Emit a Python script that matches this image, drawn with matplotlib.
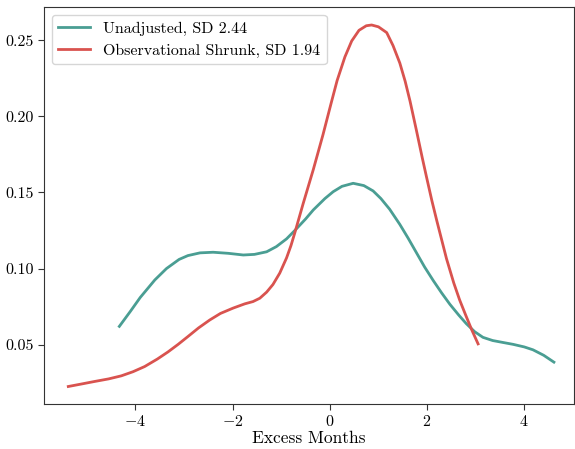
import matplotlib
matplotlib.use("Agg")
import matplotlib.pyplot as plt

unadj_x = [-4.33, -4.10, -3.90, -3.60, -3.36, -3.10, -2.92, -2.67, -2.40, -2.09,
           -1.78, -1.55, -1.30, -1.10, -0.89, -0.72, -0.50, -0.34, -0.10, 0.07,
           0.25, 0.48, 0.70, 0.89, 1.05, 1.23, 1.44, 1.61, 1.78, 1.95,
           2.13, 2.30, 2.47, 2.65, 2.81, 2.98, 3.15, 3.35, 3.55, 3.77,
           4.00, 4.18, 4.40, 4.61]
unadj_y = [0.0620, 0.0720, 0.0810, 0.0925, 0.1000, 0.1060, 0.1085, 0.1103, 0.1107, 0.1100,
           0.1089, 0.1093, 0.1110, 0.1144, 0.1195, 0.1250, 0.1325, 0.1385, 0.1460, 0.1505,
           0.1540, 0.1560, 0.1545, 0.1510, 0.1460, 0.1390, 0.1290, 0.1200, 0.1105, 0.1010,
           0.0920, 0.0840, 0.0765, 0.0695, 0.0637, 0.0585, 0.0548, 0.0527, 0.0515, 0.0502,
           0.0485, 0.0466, 0.0430, 0.0385]

shrunk_x = [-5.38, -5.10, -4.84, -4.55, -4.29, -4.05, -3.81, -3.55, -3.33, -3.12,
            -2.92, -2.70, -2.47, -2.25, -1.99, -1.75, -1.58, -1.44, -1.30, -1.17,
            -1.03, -0.89, -0.80, -0.72, -0.55, -0.34, -0.14, 0.03, 0.15, 0.31,
            0.45, 0.60, 0.75, 0.86, 1.00, 1.17, 1.30, 1.44, 1.55, 1.65,
            1.78, 1.90, 1.99, 2.10, 2.20, 2.30, 2.40, 2.55, 2.67, 2.80,
            2.92, 3.05]
shrunk_y = [0.0225, 0.0242, 0.0258, 0.0275, 0.0295, 0.0322, 0.0356, 0.0405, 0.0452, 0.0502,
            0.0553, 0.0610, 0.0662, 0.0705, 0.0740, 0.0768, 0.0783, 0.0805, 0.0845, 0.0895,
            0.0970, 0.1070, 0.1150, 0.1235, 0.1425, 0.1650, 0.1880, 0.2090, 0.2235, 0.2390,
            0.2495, 0.2565, 0.2595, 0.2600, 0.2588, 0.2550, 0.2465, 0.2350, 0.2230, 0.2100,
            0.1910, 0.1730, 0.1600, 0.1445, 0.1315, 0.1190, 0.1065, 0.0905, 0.0794, 0.0690,
            0.0597, 0.0505]

labels = ["Unadjusted, SD 2.44", "Observational Shrunk, SD 1.94"]
colors = ["#4A9E93", "#D9534F"]

plt.rcParams["font.family"] = "serif"
plt.rcParams["font.serif"] = ["cmr10"]
plt.rcParams["mathtext.fontset"] = "cm"
plt.rcParams["axes.formatter.use_mathtext"] = True


def main():
    fig = plt.figure(figsize=(5.75, 4.49), dpi=100, facecolor="white")
    ax = fig.add_axes([0.0765, 0.1002, 0.9215, 0.8838])

    ax.plot(unadj_x, unadj_y, color=colors[0], lw=2, label=labels[0])
    ax.plot(shrunk_x, shrunk_y, color=colors[1], lw=2, label=labels[1])

    ax.set_xlim(-5.88, 5.02)
    ax.set_ylim(0.011, 0.2717)
    ax.set_xticks([-4, -2, 0, 2, 4])
    ax.set_yticks([0.05, 0.10, 0.15, 0.20, 0.25])
    ax.set_yticklabels(["0.05", "0.10", "0.15", "0.20", "0.25"])
    ax.tick_params(labelsize=11.5, length=4, color="#333333")
    for s in ax.spines.values():
        s.set_color("#333333")
    ax.set_xlabel("Excess Months", fontsize=12.5, labelpad=1)

    ax.legend(loc="upper left", fontsize=11.5, frameon=True, edgecolor="#cccccc",
              handlelength=2.0)

    fig.savefig("out.png", dpi=100, facecolor="white")
    plt.close()


if __name__ == "__main__":
    main()
